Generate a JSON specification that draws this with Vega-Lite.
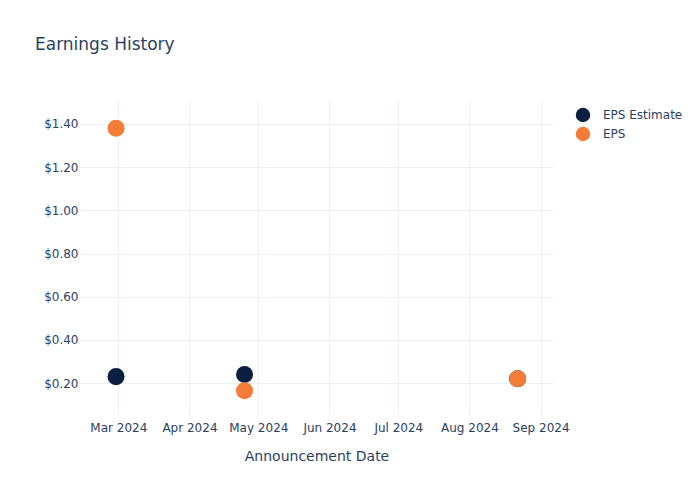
{
  "$schema": "https://vega.github.io/schema/vega-lite/v6.json",
  "autosize": "none",
  "width": 473,
  "height": 314,
  "padding": {"left": 80, "top": 100, "right": 147, "bottom": 86},
  "background": "white",
  "config": {
    "font": "DejaVu Sans",
    "view": {"stroke": null}
  },
  "title": {
    "text": "Earnings History",
    "anchor": "start",
    "frame": "group",
    "dx": -45,
    "offset": 46,
    "fontSize": 17,
    "fontWeight": "normal",
    "color": "#2a3f5f"
  },
  "data": {
    "values": [
      {"date": "2024-02-29", "series": "EPS Estimate", "value": 0.23},
      {"date": "2024-04-25", "series": "EPS Estimate", "value": 0.24},
      {"date": "2024-08-22", "series": "EPS Estimate", "value": 0.22},
      {"date": "2024-02-29", "series": "EPS", "value": 1.38},
      {"date": "2024-04-25", "series": "EPS", "value": 0.165},
      {"date": "2024-08-22", "series": "EPS", "value": 0.22}
    ]
  },
  "mark": {"type": "point", "filled": true, "opacity": 1, "size": 290},
  "encoding": {
    "x": {
      "field": "date",
      "type": "temporal",
      "title": "Announcement Date",
      "scale": {
        "type": "utc",
        "domain": [
          {"year": 2024, "month": 2, "date": 13, "hours": 7, "utc": true},
          {"year": 2024, "month": 9, "date": 6, "hours": 10, "utc": true}
        ]
      },
      "axis": {
        "format": "%b %Y",
        "tickCount": {"interval": "month", "step": 1},
        "grid": true,
        "gridColor": "#ebf0f8",
        "domain": false,
        "ticks": false,
        "labelPadding": 8,
        "labelFontSize": 12,
        "labelColor": "#2a3f5f",
        "titleFontSize": 14,
        "titleFontWeight": "normal",
        "titleColor": "#2a3f5f",
        "titlePadding": 16
      }
    },
    "y": {
      "field": "value",
      "type": "quantitative",
      "title": null,
      "scale": {"domain": [0.057, 1.511], "zero": false, "nice": false},
      "axis": {
        "format": "$.2f",
        "values": [0.2, 0.4, 0.6, 0.8, 1.0, 1.2, 1.4],
        "grid": true,
        "gridColor": "#ebf0f8",
        "domain": false,
        "ticks": false,
        "labelPadding": 2,
        "labelFontSize": 12,
        "labelColor": "#2a3f5f"
      }
    },
    "color": {
      "field": "series",
      "type": "nominal",
      "sort": ["EPS Estimate", "EPS"],
      "scale": {"domain": ["EPS Estimate", "EPS"], "range": ["#0b1f42", "#f47c36"]},
      "legend": {
        "title": null,
        "orient": "none",
        "legendX": 495,
        "legendY": 7,
        "symbolType": "circle",
        "symbolSize": 210,
        "symbolOpacity": 1,
        "labelFontSize": 12,
        "labelColor": "#2a3f5f",
        "rowPadding": 3,
        "labelOffset": 12
      }
    }
  }
}
